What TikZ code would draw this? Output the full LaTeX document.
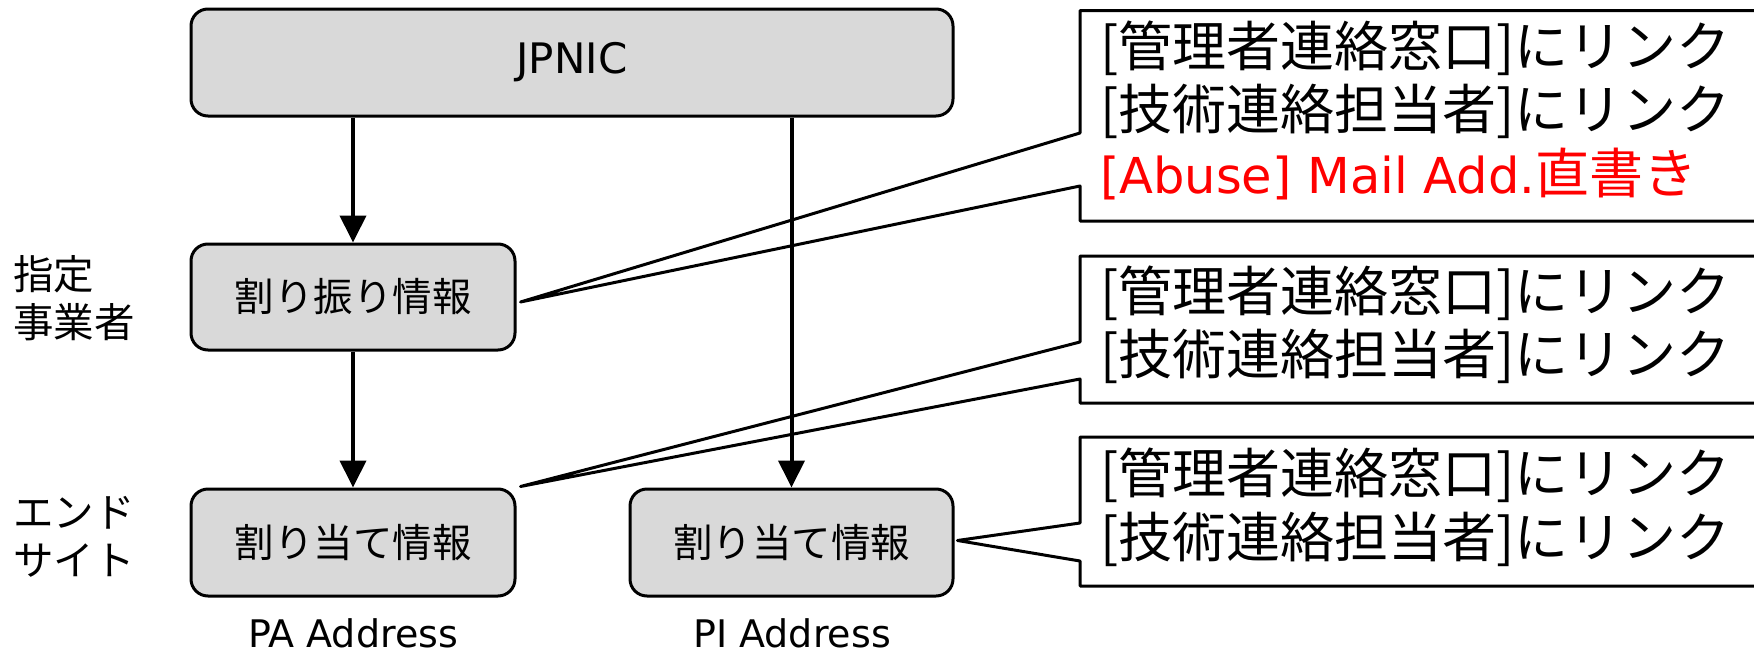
\documentclass[tikz,border=0pt]{standalone}
\usepackage{fontspec}
\setmainfont{DejaVu Sans}
\newfontfamily\cjk{Noto Sans CJK JP}
\usetikzlibrary{arrows.meta,calc}
\definecolor{boxgray}{RGB}{217,217,217}
\begin{document}
\begin{tikzpicture}[x=1pt,y=-1pt,
  infobox/.style={draw=black, line width=3pt, fill=boxgray, rounded corners=17pt, inner sep=0pt},
  flow/.style={line width=4pt, -{Triangle[width=26pt,length=27pt]}},
  callout/.style={draw=black, line width=3pt, line join=round},
  calltext/.style={anchor=base west, inner sep=0pt, font=\cjk\fontsize{54}{63}\selectfont},
  sidelabel/.style={anchor=base west, inner sep=0pt, font=\cjk\fontsize{40.5}{48}\selectfont},
  boxtext/.style={font=\cjk\fontsize{39.5}{48}\selectfont},
  addrlabel/.style={anchor=base, inner sep=0pt, text depth=0pt, font=\fontsize{38}{44}\selectfont}
]
\useasboundingbox[fill=white] (0,0) rectangle (1754,653);

% main boxes
\node[infobox, minimum width=762pt, minimum height=107pt, font=\fontsize{42}{48}\selectfont] (jpnic) at (572,62.5) {JPNIC};
\node[infobox, boxtext, minimum width=324pt, minimum height=106pt] (alloc) at (353,297) {割り振り情報};
\node[infobox, boxtext, minimum width=324pt, minimum height=107pt] (pa) at (353,542.5) {割り当て情報};
\node[infobox, boxtext, minimum width=323pt, minimum height=107pt] (pi) at (791.5,542.5) {割り当て情報};

% arrows
\draw[flow] (alloc.north |- jpnic.south) -- (alloc.north);
\draw[flow] (alloc.south) -- (pa.north);
\draw[flow] (pi.north |- jpnic.south) -- (pi.north);

% side labels
\node[sidelabel] (l1) at (13,289) {指定};
\node[sidelabel] (l2) at (13,337) {事業者};
\node[sidelabel] (l3) at (13,527) {エンド};
\node[sidelabel] (l4) at (13,575) {サイト};

% address labels
\node[addrlabel] (paaddr) at (353,647) {PA Address};
\node[addrlabel] (piaddr) at (792,647) {PI Address};

% callout tips
\coordinate (t1) at ($(alloc.east)+(4,5)$);
\coordinate (t2) at ($(pa.north east)+(4,-1)$);
\coordinate (t3) at ($(pi.east)+(3,-2)$);

% callouts
\draw[callout] (1770,10.5) -- (1080,10.5) -- (1080,133) -- (t1) -- (1080,186) -- (1080,221) -- (1770,221);
\draw[callout] (1770,256) -- (1080,256) -- (1080,342) -- (t2) -- (1080,379) -- (1080,403) -- (1770,403);
\draw[callout] (1770,437) -- (1080,437) -- (1080,523) -- (t3) -- (1080,561) -- (1080,586) -- (1770,586);

% callout texts
\node[calltext] (c1a) at (1100,66) {[管理者連絡窓口]にリンク};
\node[calltext] (c1b) at (1100,129) {[技術連絡担当者]にリンク};
\node[calltext, text=red] (c1c) at (1100,193) {{\rmfamily\fontsize{49.5}{63}\selectfont [Abuse] Mail Add.}直書き};
\node[calltext] (c2a) at (1100,311) {[管理者連絡窓口]にリンク};
\node[calltext] (c2b) at (1100,374) {[技術連絡担当者]にリンク};
\node[calltext] (c3a) at (1100,493) {[管理者連絡窓口]にリンク};
\node[calltext] (c3b) at (1100,557) {[技術連絡担当者]にリンク};
\end{tikzpicture}
\end{document}
